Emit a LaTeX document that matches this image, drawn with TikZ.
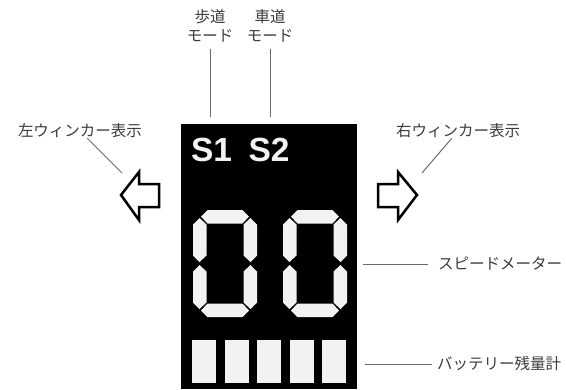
\documentclass[tikz,border=0pt]{standalone}
\usepackage{fontspec}
\newfontfamily\jpfont{Noto Sans CJK JP}
\newfontfamily\lcdfont{Liberation Sans}
\definecolor{lblgray}{HTML}{3C3C3C}
\definecolor{leadgray}{HTML}{6A6A6A}
\definecolor{lcdwhite}{HTML}{F2F2F2}

\newcommand\lcdzero{%
  \fill[lcdwhite] (8,6.5)--(14.5,0)--(49.5,0)--(56,6.5)--(49.5,13.5)--(14.5,13.5)--cycle;
  \fill[lcdwhite] (8,100.5)--(14.5,107)--(49.5,107)--(56,100.5)--(49.5,93.5)--(14.5,93.5)--cycle;
  \fill[lcdwhite] (6.5,8)--(13.5,14.5)--(13.5,45.5)--(6.5,52)--(0,45.5)--(0,14.5)--cycle;
  \fill[lcdwhite] (6.5,55)--(13.5,61.5)--(13.5,92.5)--(6.5,99)--(0,92.5)--(0,61.5)--cycle;
  \fill[lcdwhite] (57.5,8)--(50.5,14.5)--(50.5,45.5)--(57.5,52)--(64,45.5)--(64,14.5)--cycle;
  \fill[lcdwhite] (57.5,55)--(50.5,61.5)--(50.5,92.5)--(57.5,99)--(64,92.5)--(64,61.5)--cycle;
}

\begin{document}
\begin{tikzpicture}[x=1pt,y=-1pt,
  lbl/.style={font=\jpfont\fontsize{15.5}{19}\selectfont, text=lblgray, inner sep=0pt, align=center},
  leader/.style={leadgray, line width=1pt},
  blink/.style={line width=2.5pt, fill=white},
  sbadge/.style={font=\lcdfont\bfseries\fontsize{33.5}{36}\selectfont, text=lcdwhite, inner sep=0pt, anchor=base}]
\useasboundingbox (0,0) rectangle (566,389);

\node[fill=black, inner sep=0pt, minimum width=176pt, minimum height=265pt, anchor=north west] (lcd) at (181,124) {};
\node[sbadge] (s1) at (211.5,161.5) {S1};
\node[sbadge] (s2) at (269,161.5) {S2};
\foreach \dx in {193,283} {
  \begin{scope}[shift={(\dx,210)}] \lcdzero \end{scope}
}
\foreach \i in {0,...,4}
  \fill[lcdwhite] (192+32.5*\i,340) rectangle ++(24,43);

\node[lbl] (walk) at (210,26) {歩道\\モード};
\node[lbl] (road) at (270,26) {車道\\モード};
\draw[leader] ([yshift=-6pt]walk.south) -- ([yshift=7pt]walk.south |- lcd.north);
\draw[leader] ([yshift=-6pt]road.south) -- ([yshift=7pt]road.south |- lcd.north);

\node[lbl] (lwink) at (80,131) {左ウィンカー表示};
\node[lbl] (rwink) at (458,131) {右ウィンカー表示};
\coordinate (ltip) at (121,195);
\coordinate (rtip) at (417,195);
\draw[blink] (ltip) -- ++(18,-23) -- ++(0,12) -- ++(20,0) -- ++(0,23) -- ++(-20,0) -- ++(0,13) -- cycle;
\draw[blink] (rtip) -- ++(-19,-23) -- ++(0,12) -- ++(-20,0) -- ++(0,23) -- ++(20,0) -- ++(0,13) -- cycle;
\draw[leader] ([xshift=22pt,yshift=-19pt]lwink) -- ++(20,23);
\draw[leader] ([xshift=-17pt,yshift=-19pt]rwink) -- ++(-19,23);

\node[lbl, anchor=west] (speed) at (438,264) {スピードメーター};
\node[lbl, anchor=west] (batt) at (437,364) {バッテリー残量計};
\draw[leader] ([xshift=6pt]lcd.east |- speed.west) -- ([xshift=-10pt]speed.west);
\draw[leader] ([xshift=8pt]lcd.east |- batt.west) -- ([xshift=-5pt]batt.west);
\end{tikzpicture}
\end{document}
